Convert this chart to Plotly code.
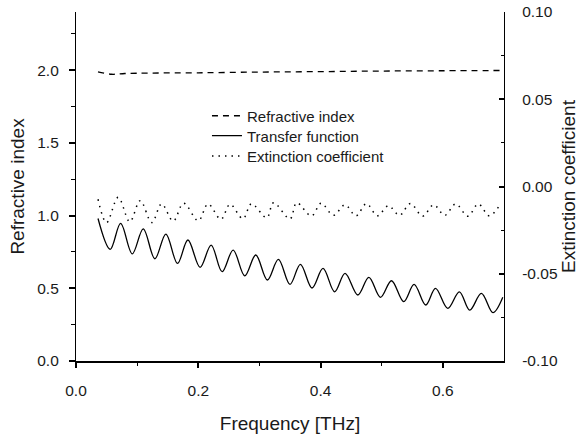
import plotly.graph_objects as go

# ---- data ----
ri_freq = [0.036, 0.058, 0.08, 0.12, 0.2, 0.3, 0.4, 0.5, 0.6, 0.7]
ri_vals = [1.988, 1.972, 1.977, 1.980, 1.982, 1.987, 1.990, 1.994, 1.996, 1.998]

tf_freq = [0.036, 0.056, 0.073, 0.092, 0.110, 0.129, 0.147, 0.166, 0.183, 0.203,
           0.221, 0.239, 0.257, 0.276, 0.294, 0.313, 0.331, 0.350, 0.367, 0.386,
           0.404, 0.423, 0.440, 0.461, 0.479, 0.498, 0.516, 0.536, 0.553, 0.572,
           0.588, 0.608, 0.627, 0.644, 0.663, 0.682, 0.698]
tf_vals = [0.98, 0.768, 0.946, 0.737, 0.909, 0.703, 0.873, 0.671, 0.832, 0.644,
           0.797, 0.614, 0.763, 0.586, 0.729, 0.557, 0.699, 0.527, 0.665, 0.502,
           0.637, 0.476, 0.603, 0.454, 0.575, 0.438, 0.552, 0.408, 0.527, 0.385,
           0.500, 0.362, 0.476, 0.350, 0.465, 0.332, 0.438]

ec_freq = [0.036, 0.050, 0.069, 0.088, 0.105, 0.124, 0.140, 0.159, 0.176, 0.200,
           0.216, 0.237, 0.252, 0.273, 0.287, 0.312, 0.323, 0.350, 0.361, 0.385,
           0.401, 0.421, 0.440, 0.458, 0.475, 0.493, 0.511, 0.529, 0.547, 0.567,
           0.585, 0.603, 0.621, 0.641, 0.658, 0.676, 0.694]
ec_vals = [-0.0073, -0.0207, -0.0062, -0.0202, -0.0081, -0.0207, -0.0100, -0.0198,
           -0.0096, -0.0196, -0.0100, -0.0188, -0.0102, -0.0185, -0.0099, -0.0179,
           -0.0093, -0.0186, -0.0093, -0.0169, -0.0096, -0.0165, -0.0105, -0.0168,
           -0.0098, -0.0168, -0.0110, -0.0165, -0.0098, -0.0170, -0.0105, -0.0165,
           -0.0100, -0.0170, -0.0100, -0.0168, -0.0102]

x_ticks = [0.0, 0.2, 0.4, 0.6]
x_ticktext = ["0.0", "0.2", "0.4", "0.6"]
y_ticks = [0.0, 0.5, 1.0, 1.5, 2.0]
y_ticktext = ["0.0", "0.5", "1.0", "1.5", "2.0"]
y2_ticks = [-0.10, -0.05, 0.0, 0.05, 0.10]
y2_ticktext = ["-0.10", "-0.05", "0.00", "0.05", "0.10"]

FONT = "Arial, Liberation Sans, sans-serif"
INK = "#1a1a1a"

# legend rows (paper y of each row centre)
LEG_X = 0.306
LEG_Y = [0.702, 0.645, 0.587]

fig = go.Figure()
fig.add_trace(go.Scatter(x=ri_freq, y=ri_vals, mode="lines", name="Refractive index",
                         legend="legend",
                         line=dict(color="black", width=1.3, dash="6px,5px", shape="spline")))
fig.add_trace(go.Scatter(x=tf_freq, y=tf_vals, mode="lines", name="Transfer function",
                         legend="legend2",
                         line=dict(color="black", width=1.3, shape="spline", smoothing=1.0)))
fig.add_trace(go.Scatter(x=ec_freq, y=ec_vals, mode="lines", name="Extinction coefficient",
                         yaxis="y2", legend="legend3",
                         line=dict(color="black", width=1.5, dash="1.5px,5px", shape="spline", smoothing=1.0)))

leg_common = dict(x=LEG_X, xanchor="left", yanchor="middle",
                  bgcolor="rgba(0,0,0,0)", font=dict(size=15, color=INK), itemwidth=30)

fig.update_layout(
    width=582, height=434,
    margin=dict(l=76, r=78, t=12, b=73, autoexpand=False),
    paper_bgcolor="white", plot_bgcolor="white",
    font=dict(family=FONT, color=INK, size=15),
    showlegend=True,
    legend=dict(y=LEG_Y[0], **leg_common),
    legend2=dict(y=LEG_Y[1], **leg_common),
    legend3=dict(y=LEG_Y[2], **leg_common),
    xaxis=dict(range=[0, 0.7], tickvals=x_ticks, ticktext=x_ticktext, tickmode="array",
               showgrid=False, zeroline=False, showline=True, linecolor="black", linewidth=2,
               ticks="outside", ticklen=5, tickwidth=1.5, tickcolor="black",
               ticklabelstandoff=9, tickfont=dict(size=15.5), automargin=False,
               minor=dict(tickvals=[0.1, 0.3, 0.5], ticks="outside", ticklen=3, tickcolor="black", tickwidth=1.2),
               title=dict(text="Frequency [THz]", font=dict(size=19), standoff=19)),
    yaxis=dict(range=[0, 2.4], tickvals=y_ticks, ticktext=y_ticktext, tickmode="array",
               showgrid=False, zeroline=False, showline=True, linecolor="black", linewidth=1.2,
               ticks="outside", ticklen=6, tickwidth=1.5, tickcolor="black",
               ticklabelstandoff=7, tickfont=dict(size=15.5), automargin=False,
               minor=dict(dtick=0.25, ticks="outside", ticklen=4, tickcolor="black", tickwidth=1.2),
               title=dict(text="Refractive index", font=dict(size=19), standoff=7)),
    yaxis2=dict(range=[-0.1, 0.1], overlaying="y", side="right",
                tickvals=y2_ticks, ticktext=y2_ticktext, tickmode="array",
                showgrid=False, zeroline=False, showline=True, linecolor="black", linewidth=1.2,
                ticks="inside", ticklen=5, tickwidth=1.5, tickcolor="black",
                ticklabelstandoff=14, tickfont=dict(size=15.5), automargin=False,
                minor=dict(dtick=0.025, ticks="inside", ticklen=3, tickcolor="black", tickwidth=1.2),
                title=dict(text="Extinction coefficient", font=dict(size=19), standoff=3)),
)

fig.write_html("out.html", config={"displayModeBar": False},
               post_script="document.body.style.margin='0';")
